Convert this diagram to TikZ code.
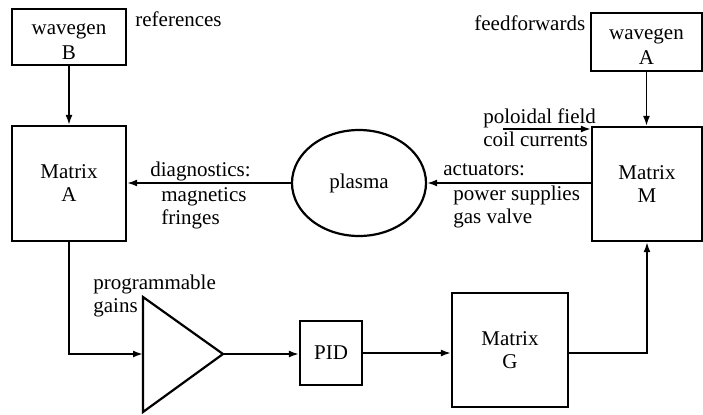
\documentclass[tikz,border=0pt]{standalone}
\usepackage{fontspec}
\setmainfont{Liberation Serif}
\usetikzlibrary{arrows.meta,shapes.geometric}

\tikzset{
  blk/.style={draw, line width=1.1pt, align=center, inner sep=0pt,
    font=\fontsize{10.5}{11.5}\selectfont},
  lbl/.style={align=left, inner sep=0pt, anchor=base west,
    font=\fontsize{10.5}{11.5}\selectfont},
  sig/.style={line width=0.9pt, -{Latex[length=5pt,width=3.5pt]}}
}
\newcommand{\genpad}{\rule{0pt}{10pt}}

\begin{document}
\begin{tikzpicture}[x=0.5pt, y=-0.5pt]
\useasboundingbox (0,0) rectangle (703,414);
	\node[blk, minimum width=57pt, minimum height=28pt] (wavB) at (69,37) {\genpad wavegen\\[1pt]B};
	\node[blk, minimum width=57pt, minimum height=57.5pt] (matA) at (69,183.5) {Matrix\\A};
	\node[blk, minimum width=55.5pt, minimum height=29pt] (wavA) at (646.5,42) {\genpad wavegen\\[1pt]A};
	\node[blk, minimum width=55pt, minimum height=57pt] (matM) at (647,184) {Matrix\\M};
	\node[blk, ellipse, minimum width=67pt, minimum height=53pt] (plasma) at (359,183) {plasma};
	\node[blk, minimum width=31pt, minimum height=32pt] (pid) at (331,353) {PID};
	\node[blk, minimum width=58pt, minimum height=57pt] (matG) at (510,350) {Matrix\\G};
	\coordinate (gainin) at (143,354);
	\coordinate (gainout) at (223,354);
	\coordinate (pfin) at (503,129);
\draw[line width=1.1pt] (143,297) -- (gainout) -- (143,412) -- cycle;
	\node[lbl] (refs) at (135,26) {references};
	\node[lbl] (ffwd) at (474,30) {feedforwards};
	\node[lbl] (pfc) at (483,146) {poloidal field\\coil currents};
	\node[lbl] (act) at (443,175) {actuators:};
	\node[lbl] (psup) at (453,223) {power supplies\\gas valve};
	\node[lbl] (diag) at (150,176) {diagnostics:};
	\node[lbl] (mag) at (161,224) {magnetics\\fringes};
	\node[lbl] (gains) at (93,312) {programmable\\gains};
\draw[sig] (wavB) -- (matA);
\draw[sig] (wavA.south) -- (wavA.south |- matM.north);
\draw[sig] (plasma.west) -- (plasma.west -| matA.east);
\draw[sig] (matM.west |- plasma.east) -- (plasma.east);
\draw[sig] (pfin) -- (pfin -| matM.west);
\draw[sig] (matA.south) |- (gainin);
\draw[sig] (gainout) -- (gainout -| pid.west);
\draw[sig] (pid.east) -- (pid.east -| matG.west);
\draw[sig] (matG.east |- pid.east) -| (matM.south);
\end{tikzpicture}
\end{document}
